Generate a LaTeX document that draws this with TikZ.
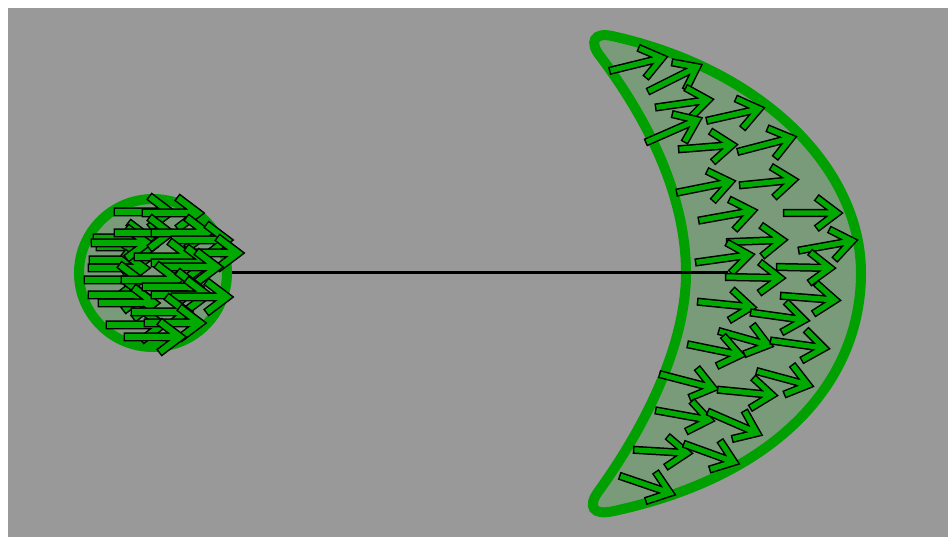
\documentclass[tikz,border=0pt]{standalone}
\usetikzlibrary{calc}

\definecolor{backdrop}{RGB}{153,153,153}
\definecolor{rimgreen}{RGB}{0,160,0}
\definecolor{bodyfill}{RGB}{122,155,122}
\definecolor{spikegreen}{RGB}{0,170,0}

% one arrow: tail, tip
\newcommand\spike[3][leafspike]{%
  \draw[#1] (#2) -- ($(#3)!5pt!(#2)$) ($(#3)!22pt!37:(#2)$) -- (#3) -- ($(#3)!22pt!-37:(#2)$);}

\begin{document}
\begin{tikzpicture}[x=1pt,y=-1pt,
    body/.style={draw=rimgreen,line width=10pt,fill=bodyfill},
    tether/.style={line width=3pt,black},
    leafspike/.style={line width=1.5pt,double=spikegreen,double distance=5.2pt,line cap=rect,line join=miter},
    cellspike/.style={line width=1.5pt,double=spikegreen,double distance=6pt,line cap=rect,line join=miter}]
  \useasboundingbox (0,0) rectangle (948,537);
  \fill[white] (0,0) rectangle (948,537);
  \fill[backdrop] (8,8) rectangle (948,537);

  % crescent
  \draw[body] (612,36) .. controls (765,70) and (861,170) .. (861,273)
    .. controls (861,380) and (780,475) .. (614,511)
    .. controls (592,516) and (588,506) .. (598,492)
    .. controls (650,420) and (686,340) .. (686,273)
    .. controls (686,200) and (652,125) .. (600,56)
    .. controls (589,42) and (594,32) .. (612,36) -- cycle;

  % small cell
  \node[body,circle,inner sep=0pt,minimum size=148pt] (cell) at (153,273) {};
  \coordinate (dock) at (728,273);
  \draw[tether] (cell.east) -- (dock);

  \foreach \a/\b/\c/\d in {613/70/662/58, 651/90/697/67, 659/107/708/100, 710/120/759/109,
      649/141/697/120, 682/149/732/145, 741/151/791/138, 680/192/730/182, 743/185/793/180,
      702/220/752/211, 787/213/837/213, 730/242/782/240, 802/250/852/241, 699/262/749/255,
      780/267/830/268, 729/277/780/278, 701/302/751/307, 784/296/835/300, 754/313/804/320,
      722/332/768/345, 691/345/740/355, 774/341/824/348, 663/375/713/388, 721/390/772/395,
      760/372/808/385, 659/411/709/420, 711/413/757/433, 637/450/687/453, 687/445/734/462,
      623/477/670/493}{
    \spike{\a,\b}{\c,\d}
  }

  \foreach \x/\y in {149/238, 152/247, 145/260, 144/268, 140/280, 144/295, 154/303, 162/325,
      147/243, 170/212, 198/213, 170/233, 207/233, 227/240, 238/253, 190/257, 207/263,
      217/267, 177/280, 198/287, 207/295, 227/297, 187/312, 200/323, 180/337}{
    \spike[cellspike]{\x-52,\y}{\x,\y}
  }
\end{tikzpicture}
\end{document}
